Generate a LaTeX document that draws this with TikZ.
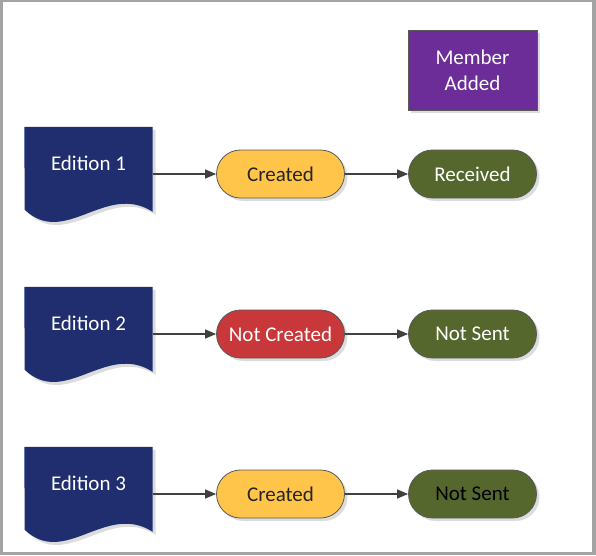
\documentclass[tikz,border=0pt]{standalone}
\usepackage{fontspec}
\setmainfont{Carlito}
\usetikzlibrary{shapes.misc,arrows.meta,shadows,backgrounds}

\definecolor{framegray}{HTML}{A3A3A3}
\definecolor{docblue}{HTML}{202D6E}
\definecolor{okyellow}{HTML}{FFC44A}
\definecolor{badred}{HTML}{C8373A}
\definecolor{sentgreen}{HTML}{55672C}
\definecolor{memberpurple}{HTML}{6C2D98}

\begin{document}
\begin{tikzpicture}
    [x=1pt,y=-1pt,
    every node/.style={font=\fontsize{21}{26}\selectfont},
    softshadow/.style={drop shadow={shadow xshift=3pt,shadow yshift=-3pt,fill=black!30,opacity=.45}},
    pill/.style={rounded rectangle,draw=black!65,line width=.8pt,minimum width=136pt,minimum height=48pt,inner xsep=4pt,softshadow},
    doc/.style={minimum width=128pt,minimum height=72pt,inner sep=0pt,text=white},
    flow/.style={draw=black!75,line width=1.2pt,-{Triangle[length=11pt,width=9pt]}}]
    \useasboundingbox (0,0) rectangle (596,555);

    % documents
    \node[doc] (ed1) at (88.5,163) {Edition 1};
    \node[doc] (ed2) at (88.5,323) {Edition 2};
    \node[doc] (ed3) at (88.5,483) {Edition 3};

    % states
    \node[pill,fill=okyellow,text=black!85] (cr1) at (280.5,174) {Created};
    \node[pill,fill=sentgreen,text=white] (rc1) at (472.5,174) {Received};
    \node[pill,fill=badred,text=white] (cr2) at (280.5,334) {Not Created};
    \node[pill,fill=sentgreen,text=white] (ns2) at (472.5,334) {Not Sent};
    \node[pill,fill=okyellow,text=black!85] (cr3) at (280.5,494) {Created};
    \node[pill,fill=sentgreen,text=black] (ns3) at (472.5,494) {Not Sent};

    \node[draw=black!65,line width=.8pt,fill=memberpurple,text=white,align=center,
        minimum width=129pt,minimum height=80pt,softshadow] (member) at (472.5,70) {Member\\Added};

    \foreach \r/\a/\b in {1/cr1/rc1,2/cr2/ns2,3/cr3/ns3}{
        \draw[flow] (ed\r.east |- \a.west) -- (\a.west);
        \draw[flow] (\a.east) -- (\b.west);
    }

    \begin{scope}[on background layer]
        \fill[framegray] (0,0) rectangle (596,555);
        \fill[white] (3,2) rectangle (592,552);
        \foreach \r in {1,2,3}
            \fill[docblue,softshadow] (ed\r.north west) -- (ed\r.north east) -- ++(0,85)
                .. controls +(-47,-30) and +(40.5,38) .. ++(-128,-2) -- cycle;
    \end{scope}
\end{tikzpicture}
\end{document}
